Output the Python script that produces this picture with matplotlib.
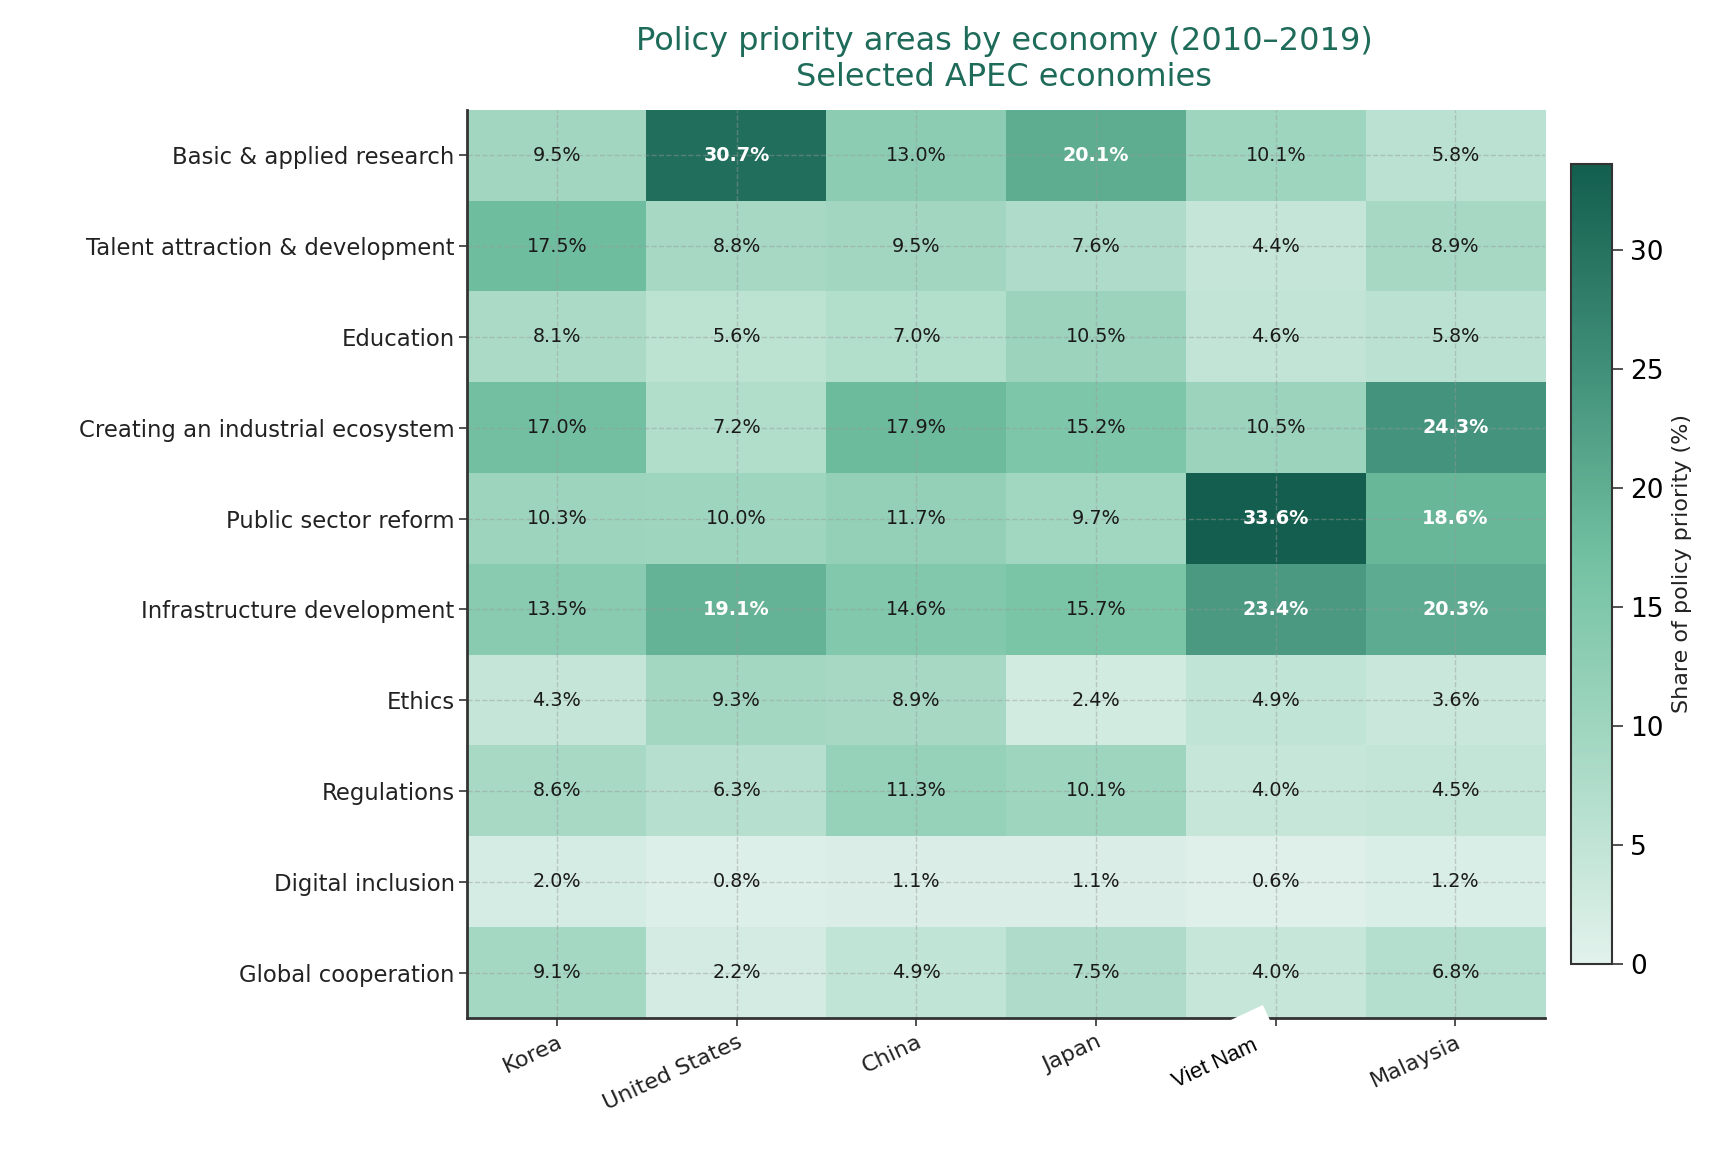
import numpy as np
import matplotlib
matplotlib.use("Agg")
import matplotlib.pyplot as plt
from matplotlib.colors import LinearSegmentedColormap

economies = ["Korea", "United States", "China", "Japan", "Viet Nam", "Malaysia"]
areas = [
    "Basic & applied research",
    "Talent attraction & development",
    "Education",
    "Creating an industrial ecosystem",
    "Public sector reform",
    "Infrastructure development",
    "Ethics",
    "Regulations",
    "Digital inclusion",
    "Global cooperation",
]
basic_research = [9.5, 30.7, 13.0, 20.1, 10.1, 5.8]
talent = [17.5, 8.8, 9.5, 7.6, 4.4, 8.9]
education = [8.1, 5.6, 7.0, 10.5, 4.6, 5.8]
industrial = [17.0, 7.2, 17.9, 15.2, 10.5, 24.3]
public_sector = [10.3, 10.0, 11.7, 9.7, 33.6, 18.6]
infrastructure = [13.5, 19.1, 14.6, 15.7, 23.4, 20.3]
ethics = [4.3, 9.3, 8.9, 2.4, 4.9, 3.6]
regulations = [8.6, 6.3, 11.3, 10.1, 4.0, 4.5]
digital = [2.0, 0.8, 1.1, 1.1, 0.6, 1.2]
global_coop = [9.1, 2.2, 4.9, 7.5, 4.0, 6.8]

data = np.array([basic_research, talent, education, industrial, public_sector,
                 infrastructure, ethics, regulations, digital, global_coop])

cmap = LinearSegmentedColormap.from_list(
    "apec", ["#e2f2ec", "#a9dac6", "#74c2a3", "#3f8f78", "#135e4e"])

fig = plt.figure(figsize=(17.17, 11.7), dpi=100)
ax = fig.add_axes([0.272, 0.130, 0.628, 0.776])
cax = fig.add_axes([0.915, 0.176, 0.024, 0.684])

im = ax.imshow(data, cmap=cmap, vmin=0, vmax=data.max(), aspect="auto")

for i in range(data.shape[0]):
    for j in range(data.shape[1]):
        v = data[i, j]
        if v > 18:
            ax.text(j, i, f"{v:.1f}%", ha="center", va="center",
                    color="white", fontsize=13.8, fontweight="bold")
        else:
            ax.text(j, i, f"{v:.1f}%", ha="center", va="center",
                    color="#1a1a1a", fontsize=13.8)

ax.set_yticks(range(len(areas)))
ax.set_yticklabels(areas, fontsize=16.4, color="#222222")
ax.set_xticks(range(len(economies)))
# Viet Nam label is drawn separately below (different font, white box)
xlabels = [e if e != "Viet Nam" else "" for e in economies]
ax.set_xticklabels(xlabels, fontsize=16, rotation=25, ha="right",
                   rotation_mode="anchor", color="#222222")
ax.tick_params(axis="both", length=6, width=1.2, color="#333333")
ax.tick_params(axis="x", pad=4)
ax.tick_params(axis="y", pad=3)

vn = economies.index("Viet Nam")
ax.annotate("Viet Nam", xy=(vn, 0), xycoords=ax.get_xaxis_transform(),
            xytext=(-17, -12), textcoords="offset points",
            rotation=25, rotation_mode="anchor", ha="right", va="top",
            fontfamily="Liberation Sans", fontsize=16, color="black",
            bbox=dict(facecolor="white", edgecolor="none", pad=16),
            annotation_clip=False, zorder=6)

ax.grid(True, linestyle="--", color="#999999", alpha=0.45, linewidth=1)
for side in ["top", "right"]:
    ax.spines[side].set_visible(False)
for side in ["left", "bottom"]:
    ax.spines[side].set_linewidth(2)
    ax.spines[side].set_color("#333333")

cb = fig.colorbar(im, cax=cax)
cb.outline.set_linewidth(1.5)
cb.outline.set_edgecolor("#333333")
cb.ax.tick_params(labelsize=19, length=8, width=1.2, color="#333333", pad=5)
cb.set_label("Share of policy priority (%)", fontsize=16, color="#222222",
             labelpad=6)

fig.suptitle("Policy priority areas by economy (2010\u20132019)\nSelected APEC economies",
             fontsize=23, color="#1f6b5a", x=0.585, y=0.978, linespacing=1.2)

fig.savefig("out.png", dpi=100)
